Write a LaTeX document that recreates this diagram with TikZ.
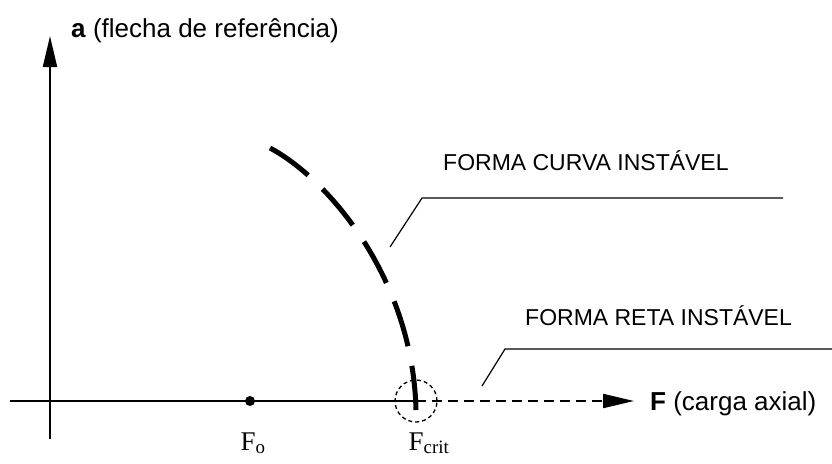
\documentclass[tikz,border=0pt]{standalone}
\usepackage{fontspec}
\setmainfont{Liberation Serif}
\setsansfont{Liberation Sans}
\usetikzlibrary{arrows.meta}
\begin{document}
\begin{tikzpicture}[x=1pt,y=-1pt,
  axis/.style={line width=2pt},
  tip/.style={-{Triangle[length=31pt,width=14pt]}},
  curvedash/.style={line width=5pt,dash pattern=on 47pt off 20pt},
  leader/.style={line width=1.2pt},
  lbl/.style={inner sep=0pt,anchor=base west,font=\sffamily\fontsize{26}{30}\selectfont},
  forma/.style={inner sep=0pt,anchor=base west,font=\sffamily\fontsize{23}{27}\selectfont},
  flbl/.style={inner sep=0pt,anchor=base,font=\fontsize{27}{31}\selectfont}]
\useasboundingbox (0,0) rectangle (832,463);
% coordinates
\coordinate (ybot) at (50,439);
\coordinate (ytop) at (50,36);
\coordinate (xleft) at (10,401);
\coordinate (crit) at (416,401);
\coordinate (xtip) at (634,401);
\coordinate (cstart) at (270,148);
\coordinate (cend) at (416,410);
% axes
\draw[axis,tip] (ybot) -- (ytop);
\draw[axis] (xleft) -- (crit);
\draw[axis,tip,dash pattern=on 10pt off 6pt] (crit) -- (xtip);
% F_o point
\node[circle,fill,inner sep=0pt,minimum size=10pt] (fo) at (250,401) {};
% critical circle
\node[circle,draw,dash pattern=on 4pt off 3pt,line width=1.3pt,minimum size=42pt,inner sep=0pt] (critc) at (crit) {};
% buckling curve
\draw[curvedash] (cstart) .. controls (330,180) and (413,280) .. (cend);
% leaders
\coordinate (l1a) at (390,247);
\coordinate (l1b) at (422,198);
\coordinate (l1c) at (783,198);
\coordinate (l2a) at (482,386);
\coordinate (l2b) at (505,349);
\coordinate (l2c) at (832,349);
\draw[leader] (l1a) -- (l1b) -- (l1c);
\draw[leader] (l2a) -- (l2b) -- (l2c);
% labels
\node[lbl] (ya) at (71,37) {\textbf{a} (flecha de referência)};
\node[lbl] (xa) at (650,410) {\textbf{F} (carga axial)};
\node[forma] (t1) at (443,170) {FORMA CURVA INSTÁVEL};
\node[forma] (t2) at (525,325) {FORMA RETA INSTÁVEL};
\node[flbl] (lfo) at (253,450) {F\textsubscript{o}};
\node[flbl] (lfc) at (429,450) {F\textsubscript{crit}};
\end{tikzpicture}
\end{document}
